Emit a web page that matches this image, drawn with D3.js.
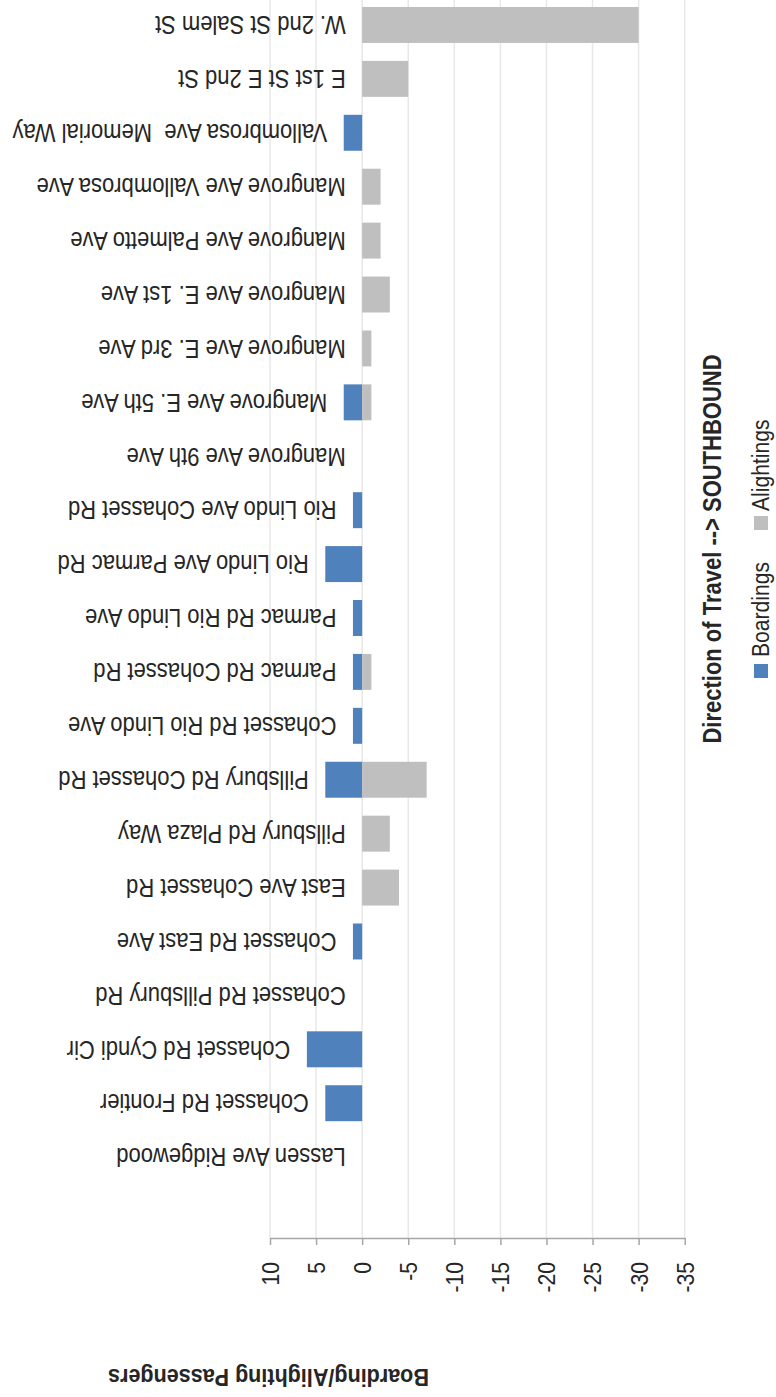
<!DOCTYPE html>
<html>
<head>
<meta charset="utf-8">
<script src="https://cdn.jsdelivr.net/npm/d3@7"></script>
<style>
  html, body { margin: 0; padding: 0; background: #fff; }
  svg { display: block; }
</style>
</head>
<body>
<svg id="chart" width="776" height="1397"></svg>
<script>
// ---- data (in direction of travel, southbound) ----
const stops = [
  "Lassen Ave Ridgewood",
  "Cohasset Rd Frontier",
  "Cohasset Rd Cyndi Cir",
  "Cohasset Rd Pillsbury Rd",
  "Cohasset Rd East Ave",
  "East Ave Cohasset Rd",
  "Pillsbury Rd Plaza Way",
  "Pillsbury Rd Cohasset Rd",
  "Cohasset Rd Rio Lindo Ave",
  "Parmac Rd Cohasset Rd",
  "Parmac Rd Rio Lindo Ave",
  "Rio Lindo Ave Parmac Rd",
  "Rio Lindo Ave Cohasset Rd",
  "Mangrove Ave 9th Ave",
  "Mangrove Ave E. 5th Ave",
  "Mangrove Ave E. 3rd Ave",
  "Mangrove Ave E. 1st Ave",
  "Mangrove Ave Palmetto Ave",
  "Mangrove Ave Vallombrosa Ave",
  "Vallombrosa Ave  Memorial Way",
  "E 1st St E 2nd St",
  "W. 2nd St Salem St"
];
const boardings  = [0, 4, 6, 0, 1, 0, 0, 4, 1, 1, 1, 4, 1, 0, 2, 0, 0, 0, 0, 2, 0, 0];
const alightings = [0, 0, 0, 0, 0, -4, -3, -7, 0, -1, 0, 0, 0, 0, -1, -1, -3, -2, -2, 0, -5, -30];
const tickValues = [10, 5, 0, -5, -10, -15, -20, -25, -30, -35];
const seriesNames = ["Boardings", "Alightings"];
const seriesColors = ["#4f81bd", "#bfbfbf"];
const axisTitle = "Boarding/Alighting Passengers";
const directionTitle = "Direction of Travel --> SOUTHBOUND";

// ---- drawing ----
const FONT = "'Liberation Sans','Arial',sans-serif";
const NARROW = 0.88; // horizontal squeeze to mimic a narrow face
const TEXT = "#262626";
const svg = d3.select("#chart");

const rows = stops.map((s, i) => ({ stop: s, b: boardings[i], a: alightings[i] }));
const BLANK = "\u00a0";
const domain = stops.slice().reverse().concat([BLANK]);

const x = d3.scaleLinear().domain([10, -35]).range([270, 684.7]);
const y = d3.scaleBand().domain(domain).range([-2, 1238])
  .paddingInner(0.333).paddingOuter(0.1665);

// gridlines
svg.append("g").selectAll("line").data(tickValues).join("line")
  .attr("x1", d => x(d)).attr("x2", d => x(d))
  .attr("y1", 0).attr("y2", 1238)
  .attr("stroke", "#e8e8e8").attr("stroke-width", 1.5);

// bars
const gBars = svg.append("g");
gBars.selectAll("rect.b").data(rows.filter(r => r.b !== 0)).join("rect")
  .attr("class", "b")
  .attr("x", d => x(d.b)).attr("width", d => x(0) - x(d.b))
  .attr("y", d => y(d.stop)).attr("height", y.bandwidth())
  .attr("fill", seriesColors[0]);
gBars.selectAll("rect.a").data(rows.filter(r => r.a !== 0)).join("rect")
  .attr("class", "a")
  .attr("x", x(0)).attr("width", d => x(d.a) - x(0))
  .attr("y", d => y(d.stop)).attr("height", y.bandwidth())
  .attr("fill", seriesColors[1]);

// category labels (upside down, at outer end of boardings bar)
svg.append("g").selectAll("text").data(rows).join("text")
  .attr("transform", d => `translate(${x(d.b) - 16.5},${y(d.stop) + y.bandwidth() / 2}) rotate(180) scale(${NARROW},1)`)
  .attr("dy", "0.35em")
  .attr("text-anchor", "start")
  .style("white-space", "pre")
  .attr("font-family", FONT).attr("font-size", 25).attr("fill", TEXT)
  .text(d => d.stop);

// value axis
const axisY = 1238;
const axis = d3.axisBottom(x).tickValues(tickValues).tickSize(7).tickSizeOuter(0)
  .tickFormat(d => String(d));
const gAxis = svg.append("g").attr("transform", `translate(0,${axisY})`).call(axis);
gAxis.select(".domain").attr("stroke", "#a6a6a6").attr("stroke-width", 1.5);
gAxis.selectAll(".tick line").attr("stroke", "#a6a6a6").attr("stroke-width", 1.5);
gAxis.selectAll(".tick text")
  .attr("x", 0).attr("y", 0).attr("dy", "0.35em")
  .attr("transform", `translate(0,24) rotate(-90) scale(${NARROW},1)`)
  .attr("text-anchor", "end")
  .attr("font-family", FONT).attr("font-size", 24).attr("fill", TEXT);

// axis title (upside down)
svg.append("text")
  .attr("transform", `translate(268.5,1378) rotate(180) scale(${NARROW},1)`)
  .attr("dy", "0.35em").attr("text-anchor", "middle")
  .attr("font-family", FONT).attr("font-size", 24.5).attr("font-weight", "bold").attr("fill", TEXT)
  .text(axisTitle);

// direction title
svg.append("text")
  .attr("transform", `translate(712,549) rotate(-90) scale(${NARROW},1)`)
  .attr("dy", "0.35em").attr("text-anchor", "middle")
  .attr("font-family", FONT).attr("font-size", 25).attr("font-weight", "bold").attr("fill", TEXT)
  .text(directionTitle);

// legend
const legendItems = [
  { name: seriesNames[0], color: seriesColors[0], sqY: 664, textY: 657 },
  { name: seriesNames[1], color: seriesColors[1], sqY: 516, textY: 511 }
];
const gLeg = svg.append("g");
gLeg.selectAll("rect").data(legendItems).join("rect")
  .attr("x", 754).attr("y", d => d.sqY).attr("width", 14).attr("height", 14)
  .attr("fill", d => d.color);
gLeg.selectAll("text").data(legendItems).join("text")
  .attr("transform", d => `translate(761,${d.textY}) rotate(-90) scale(${NARROW},1)`)
  .attr("dy", "0.35em").attr("text-anchor", "start")
  .attr("font-family", FONT).attr("font-size", 24).attr("fill", TEXT)
  .text(d => d.name);
</script>
</body>
</html>
